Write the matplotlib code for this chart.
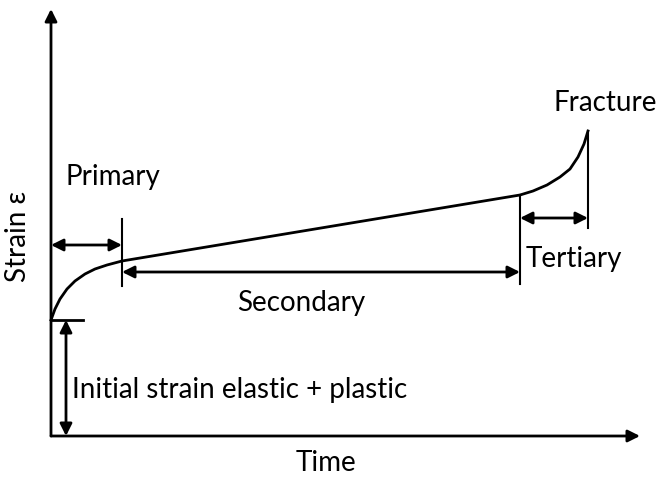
import numpy as np
import matplotlib.pyplot as plt

# creep curve (arbitrary units)
primary_t = [0.0, 0.4, 0.9, 1.6, 2.4, 3.4, 4.4, 5.6, 7.1]
primary_strain = [11.6, 12.7, 13.7, 14.7, 15.5, 16.2, 16.7, 17.1, 17.5]
secondary_t = [7.1, 46.9]
secondary_strain = [17.5, 24.1]
tertiary_t = [46.9, 48.2, 49.6, 50.9, 51.9, 52.7, 53.3, 53.7]
tertiary_strain = [24.1, 24.5, 25.1, 25.9, 26.7, 27.9, 29.2, 30.5]

labels = ['Primary', 'Secondary', 'Tertiary', 'Fracture',
          'Initial strain elastic + plastic']

plt.rcParams['font.family'] = ['Lato', 'DejaVu Sans']

fig = plt.figure(figsize=(6.63, 4.81), dpi=100)
ax = fig.add_axes([0, 0, 1, 1])
ax.set_xlim(-5.1, 61.2)
ax.set_ylim(-4.4, 43.7)
ax.axis('off')

t = primary_t + secondary_t[1:] + tertiary_t[1:]
s = primary_strain + secondary_strain[1:] + tertiary_strain[1:]
ax.plot(t, s, color='black', lw=2, solid_joinstyle='round')

def arrow(p0, p1, style='<|-|>'):
    ax.annotate('', xy=p1, xytext=p0,
                arrowprops=dict(arrowstyle=style, color='black', lw=2,
                                mutation_scale=18, shrinkA=0, shrinkB=0))

# axes with arrow tips
arrow((0, 0), (0, 42.7), '-|>')
arrow((0, 0), (58.9, 0), '-|>')

t0, t1, t2, t3 = 0.0, primary_t[-1], secondary_t[-1], tertiary_t[-1]
# boundary marks
ax.plot([t0, 3.2], [primary_strain[0]] * 2, color='black', lw=2)
ax.plot([t1, t1], [15.0, 21.7], color='black', lw=1.5)
ax.plot([t2, t2], [15.2, secondary_strain[-1]], color='black', lw=1.5)
ax.plot([t3, t3], [20.8, tertiary_strain[-1]], color='black', lw=1.5)

# stage arrows
arrow((t0, 19.1), (t1, 19.1))
arrow((t1, 16.4), (t2, 16.4))
arrow((t2, 21.8), (t3, 21.8))
arrow((1.5, 0), (1.5, primary_strain[0]))

fs = 20
ax.text(6.15, 26.0, labels[0], fontsize=fs, ha='center', va='center')
ax.text(25.0, 13.4, labels[1], fontsize=fs, ha='center', va='center')
ax.text(52.3, 17.8, labels[2], fontsize=fs, ha='center', va='center')
ax.text(55.4, 33.4, labels[3], fontsize=fs, ha='center', va='center')
ax.text(2.1, 4.7, labels[4], fontsize=fs, ha='left', va='center')
ax.text(27.5, -2.6, 'Time', fontsize=fs, ha='center', va='center')
ax.text(-3.3, 20.0, 'Strain ε', fontsize=fs, ha='center', va='center',
        rotation=90)

fig.savefig('out.png', dpi=100)
